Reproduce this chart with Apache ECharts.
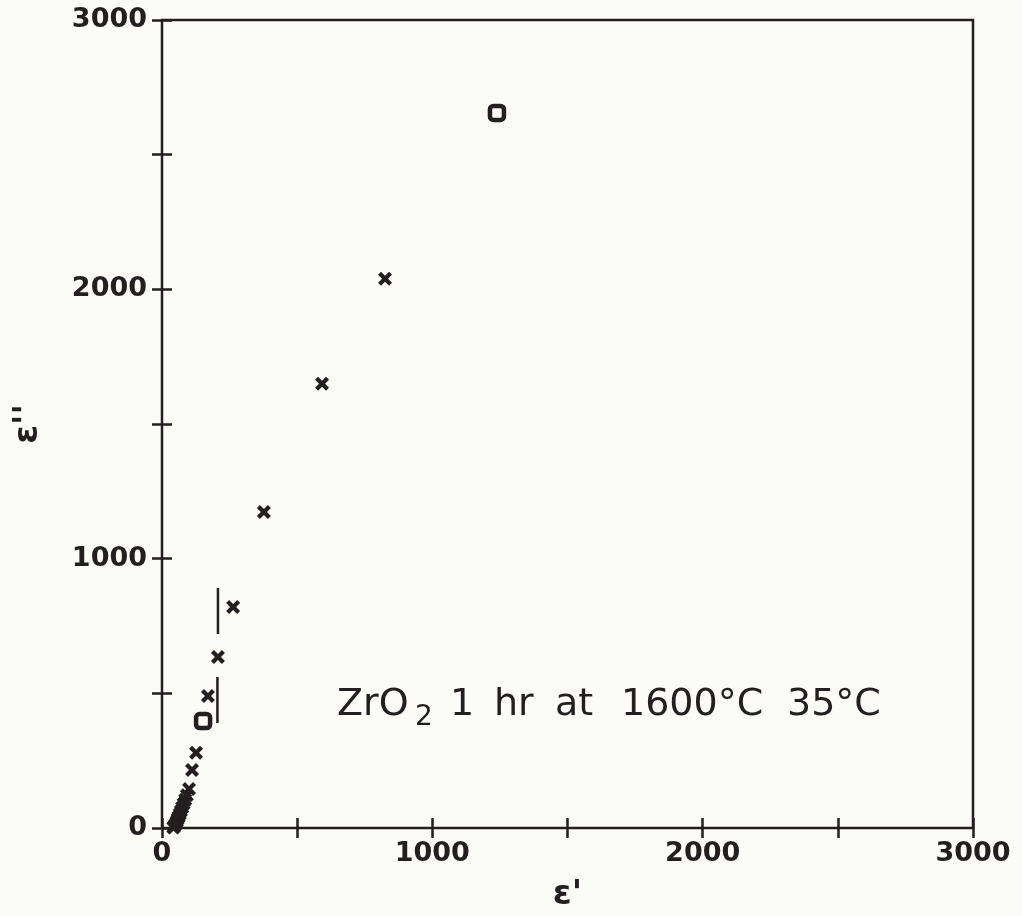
<!DOCTYPE html>
<html>
<head>
<meta charset="utf-8">
<script src="https://cdn.jsdelivr.net/npm/echarts@6/dist/echarts.min.js"></script>
<style>
html, body { margin: 0; padding: 0; background: #fbfbf7; }
#chart { width: 1022px; height: 916px; }
</style>
</head>
<body>
<div id="chart"></div>
<script>
// eps' / eps''
var crossX = [825, 592, 377, 263, 207, 170, 126, 111, 100, 92, 86, 80, 75, 70, 66, 62, 58, 55, 52, 49, 46, 44, 42];
var crossY = [2039, 1649, 1173, 821, 635, 490, 279, 215, 145, 122, 105, 90, 76, 63, 52, 42, 33, 25, 18, 12, 7, 4, 2];
var squareX = [1239, 152];
var squareY = [2655, 397];
// vertical bars beside the low points
var barX = [207, 205];
var barLow = [720, 390];
var barHigh = [891, 561];
var tickLabels = [0, 1000, 2000, 3000];

var crossPath = 'path://M0,3 L3,0 L7,4 L11,0 L14,3 L10,7 L14,11 L11,14 L7,10 L3,14 L0,11 L4,7 Z';
var ink = '#231f20';

function pairs(xs, ys) {
    var out = [];
    for (var i = 0; i < xs.length; i++) out.push([xs[i], ys[i]]);
    return out;
}

var myChart = echarts.init(document.getElementById('chart'));

var labelStyle = {
    color: ink,
    fontFamily: 'DejaVu Sans',
    fontWeight: 'bold',
    fontSize: 27,
    formatter: function (v) {
        return tickLabels.indexOf(v) >= 0 ? String(v) : '';
    }
};

var series = [
    {
        type: 'scatter',
        data: pairs(crossX, crossY),
        symbol: crossPath,
        symbolSize: 14,
        itemStyle: { color: ink, opacity: 1 },
        z: 3
    },
    {
        type: 'scatter',
        data: pairs(squareX, squareY),
        symbol: 'roundRect',
        symbolSize: 14,
        itemStyle: { color: 'rgba(0,0,0,0)', borderColor: ink, borderWidth: 4.5, opacity: 1 },
        z: 3
    }
];
for (var i = 0; i < barX.length; i++) {
    series.push({
        type: 'line',
        data: [[barX[i], barLow[i]], [barX[i], barHigh[i]]],
        symbol: 'none',
        lineStyle: { color: ink, width: 2.5 },
        z: 2
    });
}

var tickStyle = { show: true, inside: true, length: 10, lineStyle: { color: ink, width: 2.5 } };
var nameStyle = { color: ink, fontFamily: 'DejaVu Sans', fontWeight: 'bold', fontSize: 34 };
var noteFont = '38px "DejaVu Sans"';

var option = {
    backgroundColor: '#fbfbf7',
    animation: false,
    grid: {
        left: 162, top: 20, width: 811, height: 808,
        containLabel: false, outerBoundsMode: 'none',
        show: true, borderColor: ink, borderWidth: 2.5
    },
    xAxis: [
        {
            type: 'value', min: 0, max: 3000, interval: 500,
            name: "ε'", nameLocation: 'middle', nameGap: 50,
            nameTextStyle: nameStyle,
            axisLine: { show: false },
            axisTick: tickStyle,
            axisLabel: Object.assign({ margin: 12 }, labelStyle),
            splitLine: { show: false }
        },
        {
            type: 'value', min: 0, max: 3000, interval: 500, position: 'top',
            axisLine: { show: false },
            axisTick: tickStyle,
            axisLabel: { show: false },
            splitLine: { show: false }
        }
    ],
    yAxis: [
        {
            type: 'value', min: 0, max: 3000, interval: 500,
            name: "ε''", nameLocation: 'middle', nameGap: 117, nameRotate: 90,
            nameTextStyle: nameStyle,
            axisLine: { show: false },
            axisTick: tickStyle,
            axisLabel: Object.assign({ margin: 15 }, labelStyle),
            splitLine: { show: false }
        },
        {
            type: 'value', min: 0, max: 3000, interval: 500, position: 'right',
            axisLine: { show: false },
            axisTick: tickStyle,
            axisLabel: { show: false },
            splitLine: { show: false }
        }
    ],
    graphic: [
        {
            type: 'group',
            left: 337, top: 686,
            children: [
                { type: 'text', x: 0, y: 0, style: { text: 'ZrO', font: noteFont, fill: ink } },
                { type: 'text', x: 78, y: 18, style: { text: '2', font: '28px "DejaVu Sans"', fill: ink } },
                { type: 'text', x: 113, y: 0, style: { text: '1', font: noteFont, fill: ink } },
                { type: 'text', x: 157, y: 0, style: { text: 'hr', font: noteFont, fill: ink } },
                { type: 'text', x: 218, y: 0, style: { text: 'at', font: noteFont, fill: ink } },
                { type: 'text', x: 284, y: 0, style: { text: '1600°C', font: noteFont, fill: ink } },
                { type: 'text', x: 450, y: 0, style: { text: '35°C', font: noteFont, fill: ink } }
            ]
        }
    ],
    series: series
};

myChart.setOption(option);
</script>
</body>
</html>
